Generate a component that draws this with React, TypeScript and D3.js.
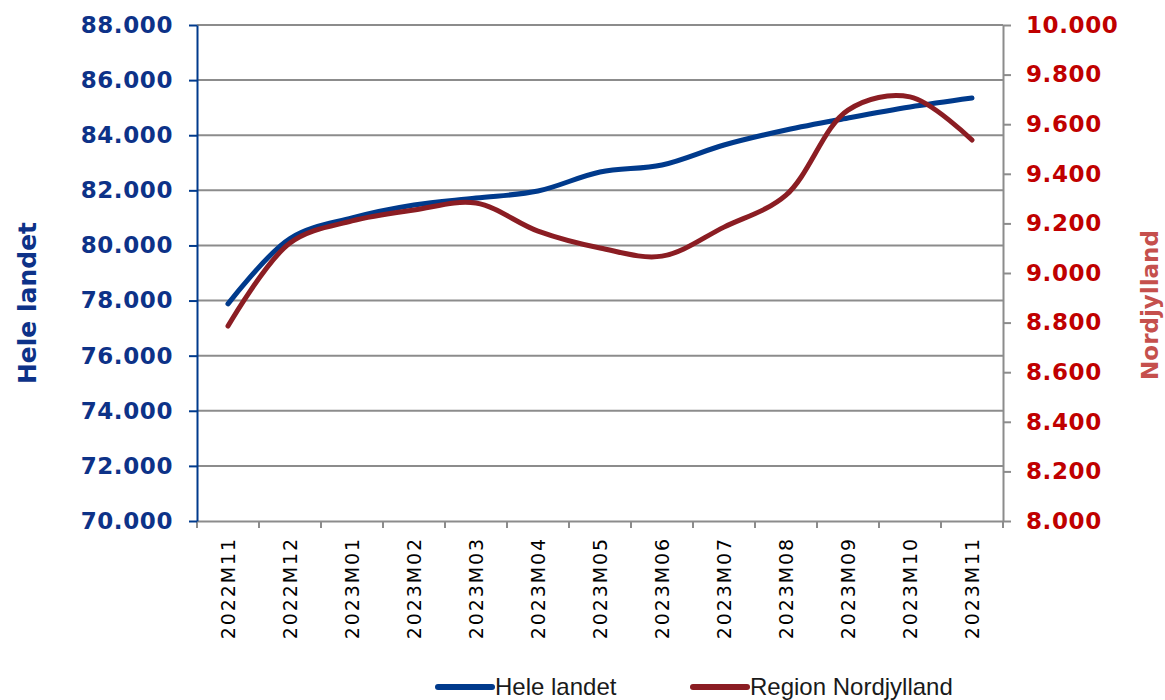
import { useEffect, useRef } from "react";
import * as d3 from "d3";

// Data
const months = [
  "2022M11", "2022M12", "2023M01", "2023M02", "2023M03", "2023M04", "2023M05",
  "2023M06", "2023M07", "2023M08", "2023M09", "2023M10", "2023M11",
];
const heleLandet = [
  77880, 80250, 81000, 81470, 81720, 81975, 82665, 82920, 83645, 84190, 84625,
  85025, 85350,
];
const nordjylland = [
  8786, 9121, 9210, 9254, 9282, 9169, 9101, 9068, 9185, 9314, 9657, 9710, 9536,
];
const leftTicks = [70000, 72000, 74000, 76000, 78000, 80000, 82000, 84000, 86000, 88000];
const rightTicks = [8000, 8200, 8400, 8600, 8800, 9000, 9200, 9400, 9600, 9800, 10000];
const seriesNames = ["Hele landet", "Region Nordjylland"];

const BLUE = "#003a8c";
const BLUE_TEXT = "#0d3288";
const RED_LINE = "#8b1d23";
const RED_TEXT = "#c00000";
const RED_TITLE = "#c5504d";
const GRID = "#8c8c8c";

const fmt = (v: number) => d3.format(",.3f")(v / 1000).replace(",", "");

export default function App() {
  const svgRef = useRef<SVGSVGElement>(null);

  useEffect(() => {
    if (!svgRef.current) return;
    const width = 1165;
    const height = 700;
    const margin = { top: 25, right: 162, bottom: 179, left: 197 };

    const svg = d3.select(svgRef.current);
    svg.selectAll("*").remove();
    svg.attr("viewBox", `0 0 ${width} ${height}`);

    const x = d3
      .scaleBand()
      .domain(months)
      .range([margin.left, width - margin.right]);
    const yL = d3
      .scaleLinear()
      .domain([70000, 88000])
      .range([height - margin.bottom, margin.top]);
    const yR = d3
      .scaleLinear()
      .domain([8000, 10000])
      .range([height - margin.bottom, margin.top]);

    const x0 = margin.left;
    const x1 = width - margin.right;
    const yBottom = height - margin.bottom;

    // gridlines
    svg
      .append("g")
      .selectAll("line")
      .data(leftTicks.slice(1))
      .join("line")
      .attr("x1", x0)
      .attr("x2", x1)
      .attr("y1", (d) => yL(d))
      .attr("y2", (d) => yL(d))
      .attr("stroke", GRID)
      .attr("stroke-width", 2);

    // x axis
    const gx = svg
      .append("g")
      .attr("transform", `translate(0,${yBottom})`)
      .call(d3.axisBottom(x).tickSize(0).tickFormat(() => ""));
    gx.select(".domain").attr("stroke", GRID).attr("stroke-width", 2);
    gx.selectAll(".tick").remove();
    const bounds = months.map((m) => x(m)!).concat([x1]);
    gx.append("g")
      .selectAll("line")
      .data(bounds)
      .join("line")
      .attr("x1", (d) => d)
      .attr("x2", (d) => d)
      .attr("y1", 0)
      .attr("y2", 7)
      .attr("stroke", GRID)
      .attr("stroke-width", 2);
    gx.append("g")
      .selectAll("text")
      .data(months)
      .join("text")
      .attr(
        "transform",
        (d) => `translate(${x(d)! + x.bandwidth() / 2},16) rotate(-90)`,
      )
      .attr("dy", "0.36em")
      .attr("text-anchor", "end")
      .attr("font-family", "DejaVu Sans, Verdana, sans-serif")
      .attr("font-size", 19)
      .attr("letter-spacing", 1.9)
      .attr("fill", "#000")
      .text((d) => d);

    // left axis
    const gl = svg
      .append("g")
      .attr("transform", `translate(${x0},0)`)
      .call(
        d3
          .axisLeft(yL)
          .tickValues(leftTicks)
          .tickSize(8)
          .tickSizeOuter(0)
          .tickPadding(16)
          .tickFormat((d) => fmt(d as number)),
      );
    gl.select(".domain").attr("stroke", BLUE).attr("stroke-width", 2);
    gl.selectAll(".tick line").attr("stroke", BLUE).attr("stroke-width", 2);
    gl.selectAll(".tick text")
      .attr("fill", BLUE_TEXT)
      .attr("font-family", "DejaVu Sans, Verdana, sans-serif")
      .attr("font-weight", "bold")
      .attr("font-size", 23)
      .attr("letter-spacing", 0.6);

    // right axis
    const gr = svg
      .append("g")
      .attr("transform", `translate(${x1},0)`)
      .call(
        d3
          .axisRight(yR)
          .tickValues(rightTicks)
          .tickSize(8)
          .tickSizeOuter(0)
          .tickPadding(15)
          .tickFormat((d) => fmt(d as number)),
      );
    gr.select(".domain").attr("stroke", GRID).attr("stroke-width", 2);
    gr.selectAll(".tick line").attr("stroke", GRID).attr("stroke-width", 2);
    gr.selectAll(".tick text")
      .attr("fill", RED_TEXT)
      .attr("font-family", "DejaVu Sans, Verdana, sans-serif")
      .attr("font-weight", "bold")
      .attr("font-size", 23)
      .attr("letter-spacing", 0.6);

    // axis titles
    svg
      .append("text")
      .attr("transform", `translate(27,${(margin.top + yBottom) / 2 + 30}) rotate(-90)`)
      .attr("dy", "0.36em")
      .attr("text-anchor", "middle")
      .attr("font-family", "DejaVu Sans, Verdana, sans-serif")
      .attr("font-weight", "bold")
      .attr("font-size", 25)
      .attr("fill", BLUE_TEXT)
      .text(seriesNames[0]);
    svg
      .append("text")
      .attr("transform", `translate(1150,${(margin.top + yBottom) / 2 + 32}) rotate(-90)`)
      .attr("dy", "0.36em")
      .attr("text-anchor", "middle")
      .attr("font-family", "DejaVu Sans, Verdana, sans-serif")
      .attr("font-weight", "bold")
      .attr("font-size", 23)
      .attr("fill", RED_TITLE)
      .text("Nordjylland");

    // lines
    const cx = (i: number) => x(months[i])! + x.bandwidth() / 2;
    const lineL = d3
      .line<number>()
      .x((_, i) => cx(i))
      .y((d) => yL(d))
      .curve(d3.curveCatmullRom.alpha(0.5));
    const lineR = d3
      .line<number>()
      .x((_, i) => cx(i))
      .y((d) => yR(d))
      .curve(d3.curveCatmullRom.alpha(0.5));

    svg
      .append("path")
      .datum(heleLandet)
      .attr("d", lineL)
      .attr("fill", "none")
      .attr("stroke", BLUE)
      .attr("stroke-width", 5)
      .attr("stroke-linecap", "round");
    svg
      .append("path")
      .datum(nordjylland)
      .attr("d", lineR)
      .attr("fill", "none")
      .attr("stroke", RED_LINE)
      .attr("stroke-width", 5)
      .attr("stroke-linecap", "round");

    // legend
    const legend = svg
      .append("g")
      .selectAll("g")
      .data(seriesNames)
      .join("g")
      .attr("transform", (_, i) => `translate(${i === 0 ? 438 : 693},687)`);
    legend
      .append("line")
      .attr("x1", 0)
      .attr("x2", 54)
      .attr("stroke", (_, i) => (i === 0 ? BLUE : RED_LINE))
      .attr("stroke-width", 6)
      .attr("stroke-linecap", "round");
    legend
      .append("text")
      .attr("x", 57)
      .attr("dy", "0.34em")
      .attr("font-family", "Liberation Sans Narrow, Arial Narrow, sans-serif")
      .attr("font-size", 24)
      .attr("fill", "#1a1a1a")
      .text((d) => d);
  }, []);

  return (
    <svg
      ref={svgRef}
      width={1165}
      height={700}
      style={{ position: "absolute", left: 0, top: 0, background: "#fff" }}
    />
  );
}
